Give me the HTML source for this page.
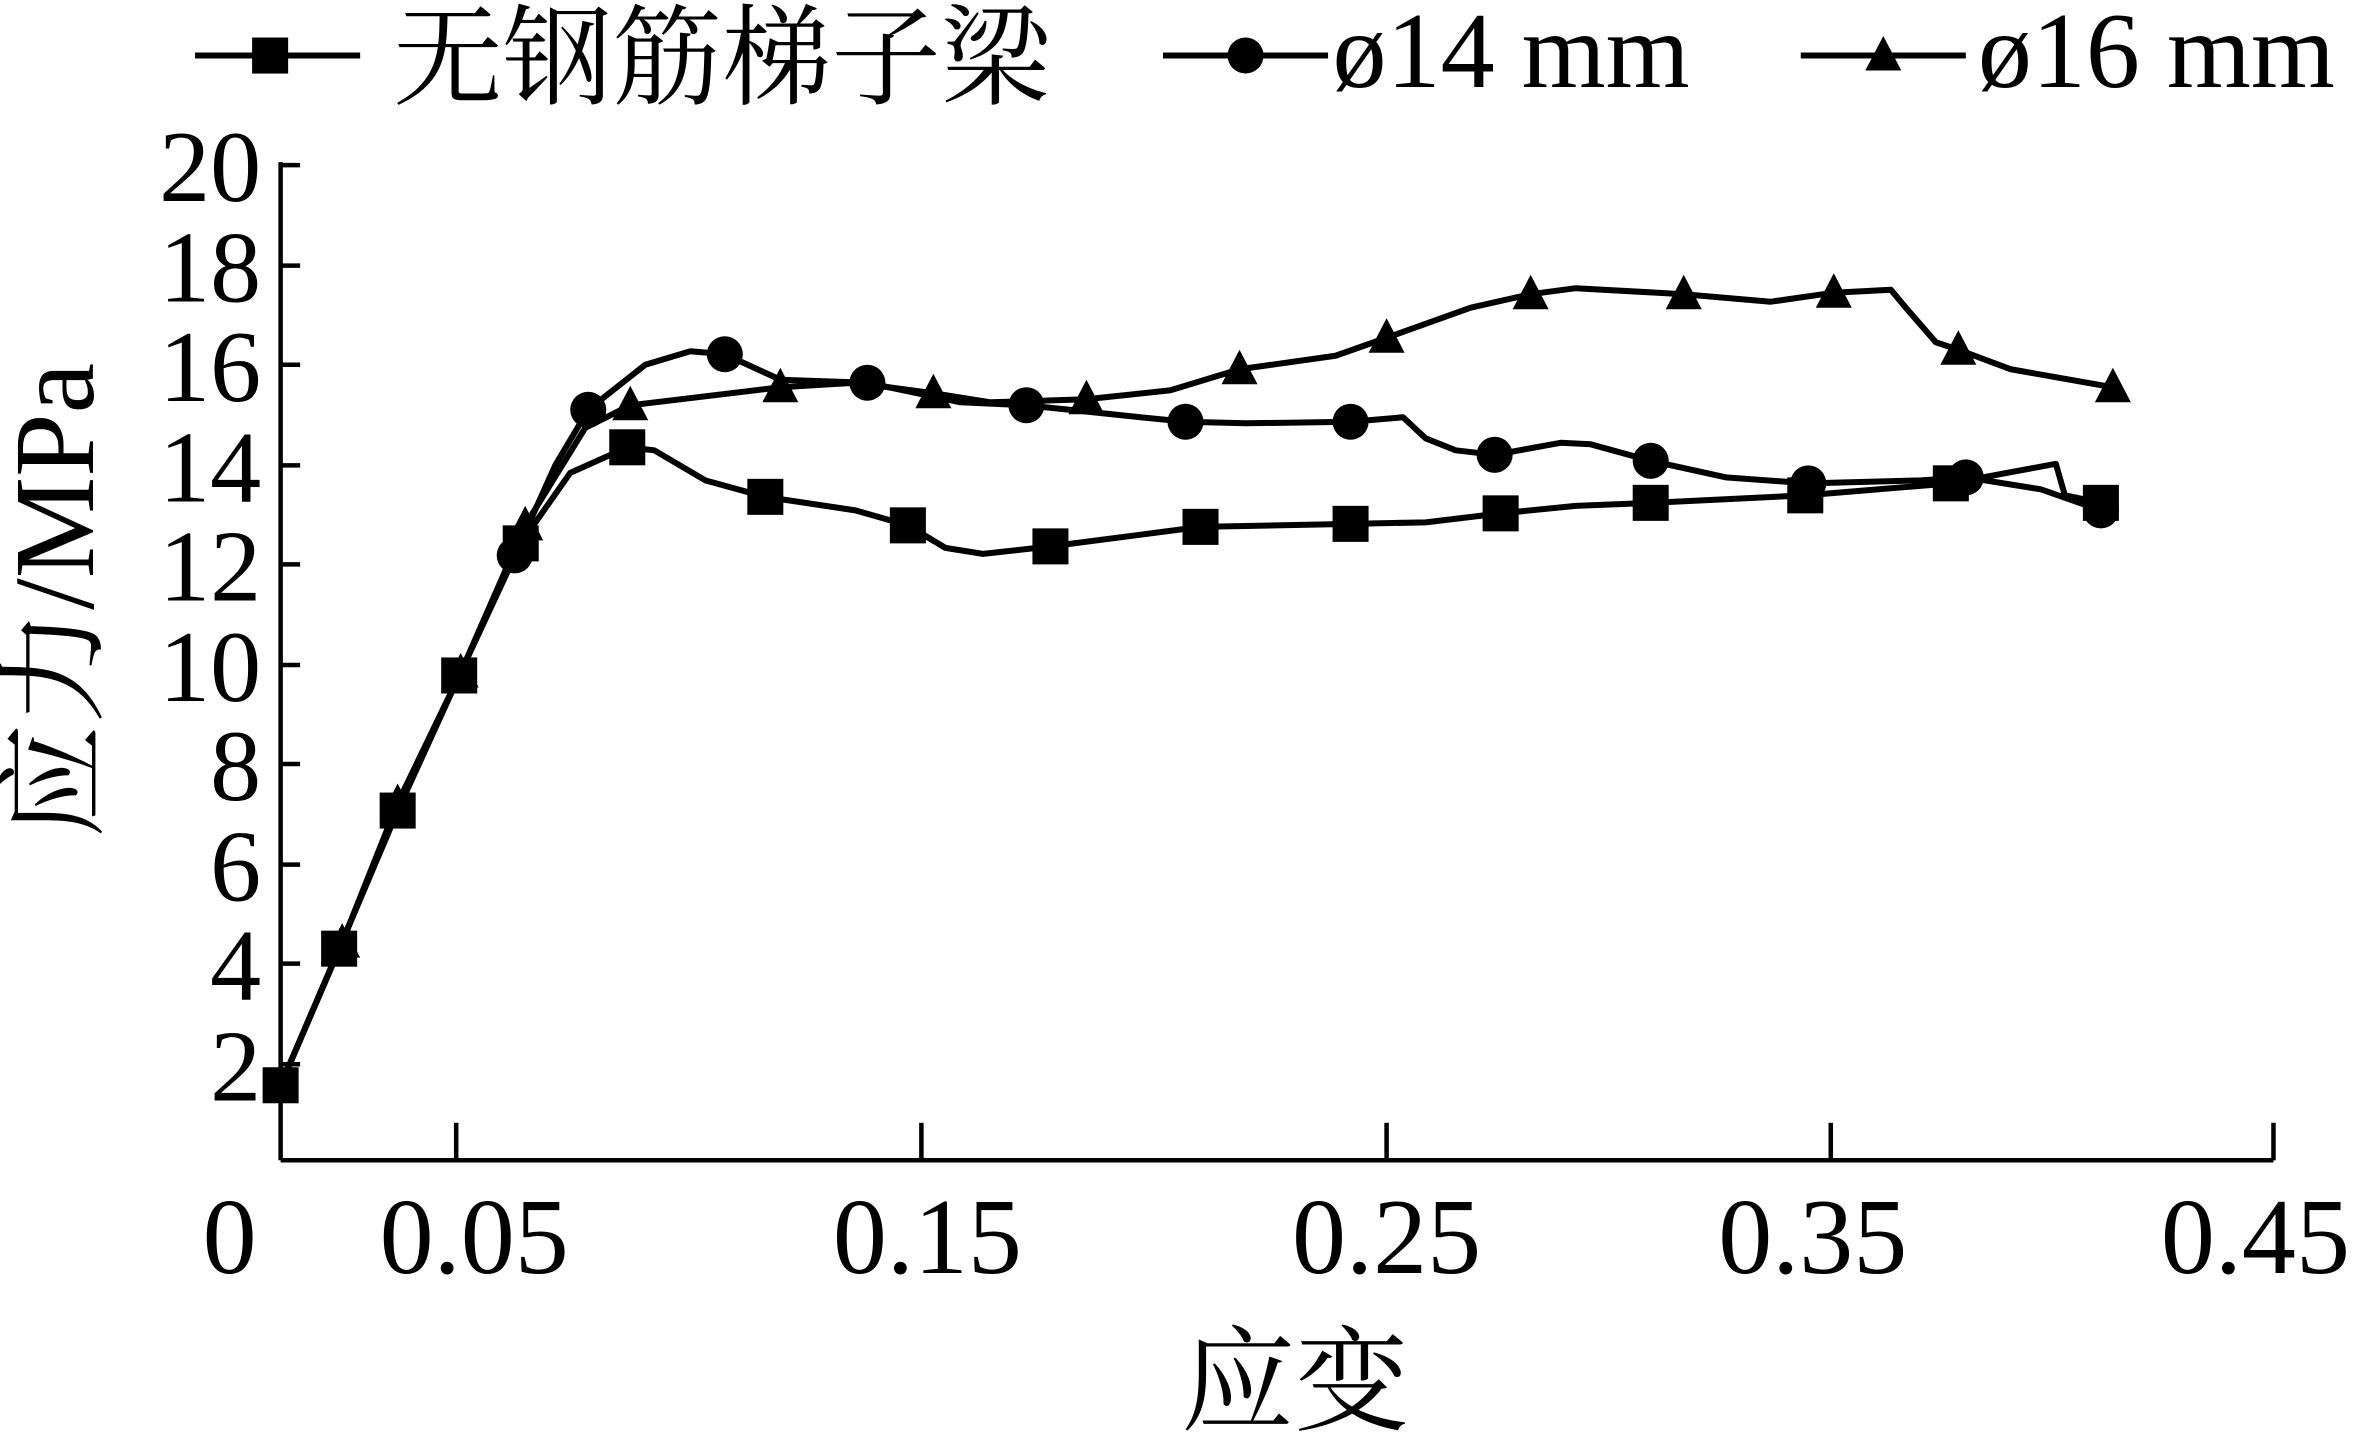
<!DOCTYPE html>
<html><head><meta charset="utf-8"><style>
html,body{margin:0;padding:0;background:#fff;}
svg{display:block;}
text{font-family:"Liberation Serif","Noto Serif CJK SC","Noto Sans CJK SC",serif;fill:#000;}
</style></head><body>
<svg width="2353" height="1435" viewBox="0 0 1568 956" preserveAspectRatio="none" xmlns="http://www.w3.org/2000/svg">
<defs>
<rect id="sq" x="-12" y="-12" width="24" height="24" fill="#000"/>
<circle id="ci" r="12" fill="#000"/>
<polygon id="tr" points="0,-13 12,10 -12,10" fill="#000"/>
</defs>
<!-- legend -->
<line x1="130" y1="37" x2="240" y2="37" stroke="#000" stroke-width="4"/>
<use href="#sq" x="180" y="37"/>
<text x="262" y="64" font-size="73">无钢筋梯子梁</text>
<line x1="775" y1="37" x2="885" y2="37" stroke="#000" stroke-width="4"/>
<use href="#ci" x="830" y="37"/>
<text x="888" y="58" font-size="72">ø14 mm</text>
<line x1="1200" y1="37" x2="1310" y2="37" stroke="#000" stroke-width="4"/>
<use href="#tr" x="1255" y="37"/>
<text x="1318" y="58" font-size="72">ø16 mm</text>
<!-- axes -->
<g stroke="#000" stroke-width="3" fill="none">
<line x1="187" y1="108" x2="187" y2="773"/>
<line x1="187" y1="773" x2="1515" y2="773"/>
<line x1="187" y1="110" x2="200" y2="110"/>
<line x1="187" y1="177" x2="200" y2="177"/>
<line x1="187" y1="243" x2="200" y2="243"/>
<line x1="187" y1="310" x2="200" y2="310"/>
<line x1="187" y1="376" x2="200" y2="376"/>
<line x1="187" y1="443" x2="200" y2="443"/>
<line x1="187" y1="509" x2="200" y2="509"/>
<line x1="187" y1="576" x2="200" y2="576"/>
<line x1="187" y1="642" x2="200" y2="642"/>
<line x1="187" y1="709" x2="200" y2="709"/>
<line x1="304" y1="748" x2="304" y2="773"/>
<line x1="614" y1="748" x2="614" y2="773"/>
<line x1="924" y1="748" x2="924" y2="773"/>
<line x1="1220" y1="748" x2="1220" y2="773"/>
<line x1="1515" y1="748" x2="1515" y2="773"/>
</g>
<g font-size="68" text-anchor="end">
<text x="174" y="134">20</text><text x="174" y="201">18</text><text x="174" y="267">16</text>
<text x="174" y="334">14</text><text x="174" y="400">12</text><text x="174" y="467">10</text>
<text x="174" y="533">8</text><text x="174" y="600">6</text><text x="174" y="666">4</text>
<text x="174" y="733">2</text>
</g>
<g font-size="72" text-anchor="middle">
<text x="153" y="848">0</text><text x="316" y="848">0.05</text><text x="618" y="848">0.15</text>
<text x="924" y="848">0.25</text><text x="1208" y="848">0.35</text><text x="1503" y="848">0.45</text>
</g>
<text x="863" y="947" font-size="76" text-anchor="middle">应变</text>
<text transform="translate(62,400) rotate(-90)" font-size="76" text-anchor="middle">应力/MPa</text>
<!-- series -->
<g fill="none" stroke="#000" stroke-width="4" stroke-linejoin="round">
<polyline points="187,723 226,632 265,540 306,450 347,362 380,315 418,298 436,300 470,320 510,331 570,340 605,350 630,365 655,369 700,364 800,351 900,349 950,348 1000,342 1050,337 1100,335 1203,330 1300,322 1370,309 1376,330 1400,335"/>
<polyline points="187,723 226,632 265,540 306,450 343,370 370,310 392,273 430,243 460,234 483,236 520,253 578,255 640,268 684,270 760,278 790,281 830,282 900,281 935,278 950,292 970,300 996,303 1040,295 1060,296 1100,307 1150,318 1205,322 1280,320 1310,318 1360,326 1400,340"/>
<polyline points="187,723 228,628 265,535 307,448 350,350 390,285 420,270 520,258 570,255 622,262 660,268 724,266 780,260 826,246 890,237 924,225 980,205 1020,196 1050,192 1122,196 1180,201 1222,195 1260,193 1270,205 1290,228 1305,233 1340,246 1408,258"/>
</g>
<g>
<use href="#tr" x="228" y="628"/><use href="#tr" x="265" y="535"/><use href="#tr" x="307" y="448"/><use href="#tr" x="350" y="350"/><use href="#tr" x="420" y="270"/><use href="#tr" x="520" y="258"/><use href="#tr" x="622" y="262"/><use href="#tr" x="724" y="266"/><use href="#tr" x="826" y="246"/><use href="#tr" x="924" y="225"/><use href="#tr" x="1020" y="196"/><use href="#tr" x="1122" y="196"/><use href="#tr" x="1222" y="195"/><use href="#tr" x="1305" y="233"/><use href="#tr" x="1408" y="258"/>
<use href="#ci" x="343" y="370"/><use href="#ci" x="392" y="273"/><use href="#ci" x="483" y="236"/><use href="#ci" x="578" y="255"/><use href="#ci" x="684" y="270"/><use href="#ci" x="790" y="281"/><use href="#ci" x="900" y="281"/><use href="#ci" x="996" y="303"/><use href="#ci" x="1100" y="307"/><use href="#ci" x="1205" y="322"/><use href="#ci" x="1310" y="318"/><use href="#ci" x="1400" y="340"/>
<use href="#sq" x="187" y="723"/><use href="#sq" x="226" y="632"/><use href="#sq" x="265" y="540"/><use href="#sq" x="306" y="450"/><use href="#sq" x="347" y="362"/><use href="#sq" x="418" y="298"/><use href="#sq" x="510" y="331"/><use href="#sq" x="605" y="350"/><use href="#sq" x="700" y="364"/><use href="#sq" x="800" y="351"/><use href="#sq" x="900" y="349"/><use href="#sq" x="1000" y="342"/><use href="#sq" x="1100" y="335"/><use href="#sq" x="1203" y="330"/><use href="#sq" x="1300" y="322"/><use href="#sq" x="1400" y="335"/>
</g>
</svg>
</body></html>
